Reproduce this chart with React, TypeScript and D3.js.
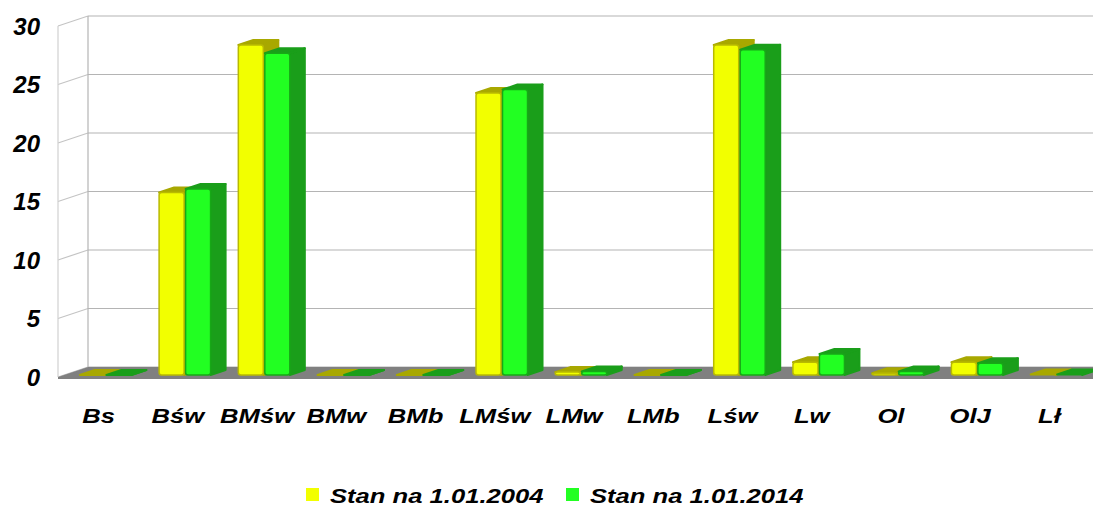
// App
import { useEffect, useRef } from 'react';
import * as d3 from 'd3';

const categories: string[] = ['Bs', 'Bśw', 'BMśw', 'BMw', 'BMb', 'LMśw', 'LMw', 'LMb', 'Lśw', 'Lw', 'Ol', 'OlJ', 'Lł'];
const values2004: number[] = [0, 15.6, 28.2, 0, 0, 24.1, 0.25, 0, 28.2, 1.1, 0.15, 1.1, 0.05];
const values2014: number[] = [0, 15.9, 27.5, 0, 0, 24.4, 0.3, 0, 27.8, 1.8, 0.3, 1.0, 0.05];
const yTicks: number[] = [0, 5, 10, 15, 20, 25, 30];
const seriesNames: string[] = ['Stan na 1.01.2004', 'Stan na 1.01.2014'];

interface ISeriesStyle {
	front: string;
	edge: string;
	dark: string;
}

const styles: ISeriesStyle[] = [
	{ front: '#f2ff00', edge: '#b9ba00', dark: '#a8a800' },
	{ front: '#22ff22', edge: '#17a817', dark: '#1a9e1a' }
];

function App() {
	const ref = useRef<SVGSVGElement>(null);
	const width = 1093;
	const height = 510;

	useEffect(() => {
		document.body.style.margin = '0';
		const svg = d3.select(ref.current);
		svg.selectAll('*').remove();

		const font = '"Liberation Sans", Arial, sans-serif';
		// the original text looks stretched sideways
		const stretch = 1.22;
		// oblique depth of the whole box
		const depthX = 30;
		const depthY = -10;

		const x = d3.scaleBand<string>().domain(categories).range([60, 1090]);
		const y = d3.scaleLinear().domain([0, 30]).range([377, 26]);

		// grid: back wall and left side wall
		const grid = svg.append('g').attr('stroke', '#b4b4b4').attr('stroke-width', 1.2).attr('fill', 'none');
		yTicks.forEach((t) => {
			grid.append('line')
				.attr('x1', 58).attr('y1', y(t))
				.attr('x2', 58 + depthX).attr('y2', y(t) + depthY)
				.attr('stroke', '#c4c4c4');
			grid.append('line')
				.attr('x1', 58 + depthX).attr('y1', y(t) + depthY)
				.attr('x2', width).attr('y2', y(t) + depthY);
		});
		grid.append('line').attr('x1', 58).attr('y1', y(30)).attr('x2', 58).attr('y2', y(0)).attr('stroke', '#d0d0d0');
		grid.append('line').attr('x1', 58 + depthX).attr('y1', y(30) + depthY).attr('x2', 58 + depthX).attr('y2', y(0) + depthY);

		// floor
		svg.append('path')
			.attr('d', `M58,${y(0)} L${58 + depthX},${y(0) + depthY} L${width},${y(0) + depthY} L${width},${y(0) + 2} L58,${y(0) + 2} Z`)
			.attr('fill', '#808080');

		// bars
		const barW = 25;
		const gap = 1.5;
		const bx = 15;
		const by = -5;
		const offX = depthX * 0.2;
		const offY = depthY * 0.2;
		const bars = svg.append('g');
		categories.forEach((c, i) => {
			const center = (x(c) ?? 0) + x.bandwidth() / 2;
			[values2004[i], values2014[i]].forEach((v, s) => {
				const st = styles[s];
				const x0 = center - barW - gap / 2 + offX + s * (barW + gap);
				const x1 = x0 + barW;
				const yb = y(0) + offY;
				const yt = y(v) + offY;
				const g = bars.append('g');
				// side face
				g.append('path')
					.attr('d', `M${x1},${yt} L${x1 + bx},${yt + by} L${x1 + bx},${yb + by} L${x1},${yb} Z`)
					.attr('fill', st.dark)
					.attr('stroke', st.dark)
					.attr('stroke-linejoin', 'round')
					.attr('stroke-width', 2);
				// top face
				g.append('path')
					.attr('d', `M${x0},${yt} L${x0 + bx},${yt + by} L${x1 + bx},${yt + by} L${x1},${yt} Z`)
					.attr('fill', st.dark)
					.attr('stroke', st.dark)
					.attr('stroke-linejoin', 'round')
					.attr('stroke-width', 2);
				// front face
				if (yb - yt > 1) {
					g.append('rect')
						.attr('x', x0).attr('y', yt)
						.attr('width', barW).attr('height', yb - yt)
						.attr('rx', 2.5)
						.attr('fill', st.front)
						.attr('stroke', st.edge)
						.attr('stroke-width', 1.5);
				}
			});
		});

		// y axis labels
		svg.append('g')
			.selectAll('text')
			.data(yTicks)
			.enter()
			.append('text')
			.attr('x', 40)
			.attr('y', (d) => y(d))
			.attr('dy', '0.36em')
			.attr('text-anchor', 'end')
			.style('font-family', font)
			.style('font-weight', 'bold')
			.style('font-style', 'italic')
			.style('font-size', '24px')
			.text((d) => d);

		// category labels
		svg.append('g')
			.selectAll('text')
			.data(categories)
			.enter()
			.append('text')
			.attr('transform', (d) => `translate(${(x(d) ?? 0) + x.bandwidth() / 2 - 1}, 423) scale(${stretch}, 1)`)
			.attr('text-anchor', 'middle')
			.style('font-family', font)
			.style('font-weight', 'bold')
			.style('font-style', 'italic')
			.style('font-size', '21px')
			.text((d) => d);

		// legend
		const legend = svg.append('g');
		const legendX = [306, 566];
		seriesNames.forEach((n, s) => {
			legend.append('rect')
				.attr('x', legendX[s]).attr('y', 488)
				.attr('width', 13).attr('height', 13)
				.attr('fill', styles[s].front);
			legend.append('text')
				.attr('transform', `translate(${legendX[s] + 24}, 503) scale(${stretch}, 1)`)
				.style('font-family', font)
				.style('font-weight', 'bold')
				.style('font-style', 'italic')
				.style('font-size', '21px')
				.text(n);
		});
	}, []);

	return <svg ref={ref} width={width} height={height} style={{ display: 'block' }} />;
}

export default App;
